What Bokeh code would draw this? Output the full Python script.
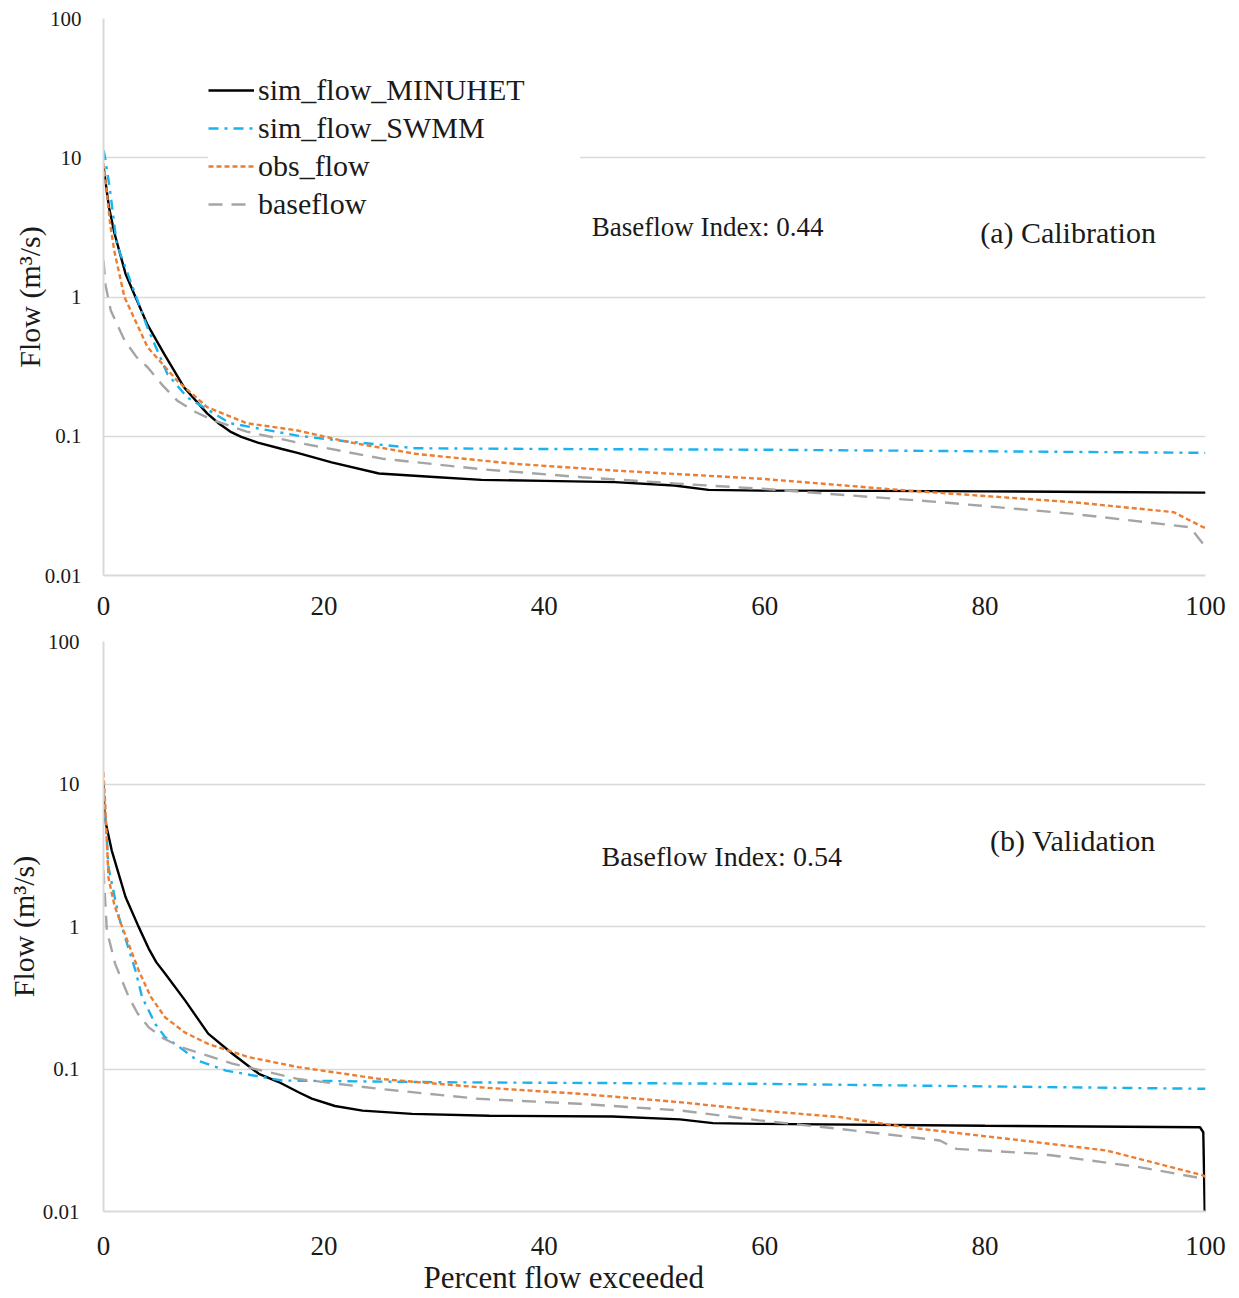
from bokeh.plotting import figure
from bokeh.layouts import column
from bokeh.models import (Range1d, FixedTicker, CustomJSTickFormatter, Legend,
                          LegendItem, Label, Title)
from bokeh.embed import file_html
from bokeh.resources import INLINE

FONT = "Liberation Serif"
TXT = "#1a1a1a"
GRID = "#d9d9d9"

# ---------------- data ----------------
x_ticks = [0, 20, 40, 60, 80, 100]
y_ticks = [0.01, 0.1, 1, 10, 100]
series_names = ["sim_flow_MINUHET", "sim_flow_SWMM", "obs_flow", "baseflow"]

# (a) Calibration
cal_minuhet_pct = [0, 0.1, 0.5, 1.0, 2.0, 2.9, 4.0, 5.5, 7.3, 9.4, 10.5, 11.5, 12.5, 14,
                   16.2, 17.6, 20.7, 25, 30, 34.3, 40, 46.4, 51.8, 54.9, 59.7, 70, 80, 90, 100]
cal_minuhet_q = [8.8, 7.5, 4.4, 2.86, 1.47, 1.0, 0.63, 0.39, 0.225, 0.146, 0.123, 0.108,
                 0.099, 0.090, 0.081, 0.076, 0.065, 0.054, 0.051, 0.0486, 0.0478, 0.0468,
                 0.0443, 0.0412, 0.0407, 0.0405, 0.0402, 0.0398, 0.0394]
cal_swmm_pct = [0, 0.1, 0.6, 1.2, 2.2, 4.0, 5.8, 7.6, 11.5, 17.6, 22, 28.3, 40, 60, 80, 100]
cal_swmm_q = [11.3, 10.5, 5.8, 2.4, 1.47, 0.60, 0.28, 0.19, 0.124, 0.101, 0.092, 0.082,
              0.081, 0.080, 0.078, 0.076]
cal_obs_pct = [0, 0.1, 0.6, 0.97, 1.9, 4.0, 6.7, 9.4, 13, 17.6, 22.3, 28.3, 37.3, 46.4,
               59.7, 73, 88, 97.1, 99.8, 100]
cal_obs_q = [9.1, 8.0, 3.37, 2.16, 1.0, 0.436, 0.25, 0.162, 0.124, 0.11, 0.0906, 0.0748,
             0.0634, 0.0567, 0.0495, 0.0407, 0.0336, 0.0285, 0.0222, 0.022]
cal_base_pct = [0, 0.2, 0.66, 1.9, 3.0, 4.0, 5.3, 6.7, 8.3, 10, 13, 17.6, 25.3, 34.3,
                43.4, 52.4, 59.7, 63.9, 76, 88, 98.6, 100]
cal_base_q = [1.83, 1.2, 0.8, 0.49, 0.37, 0.313, 0.235, 0.18, 0.15, 0.13, 0.108, 0.09,
              0.069, 0.058, 0.0508, 0.0455, 0.042, 0.0396, 0.0336, 0.0277, 0.0222, 0.016]

# (b) Validation
val_minuhet_pct = [0, 0.09, 0.75, 2.0, 3.2, 4.1, 4.8, 5.6, 7.4, 9.5, 11.7, 14.1, 15.9,
                   17.7, 18.9, 21, 23.5, 28, 35, 46.2, 52.3, 55.3, 59.5, 80, 99.5, 99.8,
                   100]
val_minuhet_q = [10.5, 5.85, 3.41, 1.61, 0.99, 0.70, 0.56, 0.466, 0.303, 0.177, 0.128,
                 0.0925, 0.081, 0.0687, 0.062, 0.055, 0.051, 0.0484, 0.047, 0.0464,
                 0.0443, 0.0417, 0.0412, 0.040, 0.039, 0.036, 0.005]
val_swmm_pct = [0, 0.1, 0.45, 1.4, 2.9, 3.5, 4.7, 5.6, 6.5, 8.5, 11.1, 16.2, 31, 59.5,
                80, 100]
val_swmm_q = [9.0, 7.6, 2.6, 1.16, 0.49, 0.32, 0.207, 0.167, 0.15, 0.115, 0.0975, 0.083,
              0.0807, 0.0787, 0.0755, 0.0726]
val_obs_pct = [0, 0.15, 0.45, 1.0, 1.7, 3.2, 4.3, 5.6, 7.4, 9.5, 13.2, 17.7, 25, 34,
               43.2, 52.3, 59.5, 66.8, 72.9, 82, 91, 99.8, 100]
val_obs_q = [12.1, 7.3, 2.2, 1.4, 0.99, 0.49, 0.32, 0.23, 0.18, 0.15, 0.121, 0.103,
             0.0853, 0.0745, 0.067, 0.0585, 0.0512, 0.046, 0.039, 0.0324, 0.0268,
             0.0179, 0.0175]
val_base_pct = [0, 0.3, 1.06, 2.3, 3.1, 4.1, 5.5, 7.1, 11.7, 17.7, 25, 34, 43.2, 52.3,
                59.5, 66.8, 75.9, 76.8, 77.4, 85, 94, 99.8, 100]
val_base_q = [2.5, 0.94, 0.547, 0.319, 0.245, 0.196, 0.163, 0.142, 0.109, 0.085, 0.0726,
              0.0618, 0.057, 0.0512, 0.0436, 0.038, 0.0315, 0.029, 0.0275, 0.0254,
              0.0205, 0.017, 0.0165]

STYLES = [
    dict(line_color="#000000", line_width=2.4, line_dash="solid"),
    dict(line_color="#1ab2ef", line_width=2.4, line_dash="10 6 3 6"),
    dict(line_color="#ed7d31", line_width=2.4, line_dash="5 3"),
    dict(line_color="#a5a5a5", line_width=2.4, line_dash="14 9"),
]


def make_fig(height, b_left, b_top, b_bottom, xl_standoff, yl_standoff, title_standoff):
    p = figure(width=1239, height=height, y_axis_type="log",
               x_range=Range1d(0, 100), y_range=Range1d(0.01, 100),
               output_backend="svg", toolbar_location=None,
               min_border_left=b_left, min_border_right=34,
               min_border_top=b_top, min_border_bottom=b_bottom)
    p.outline_line_color = None
    p.xgrid.grid_line_color = None
    p.ygrid.grid_line_color = GRID
    p.ygrid.grid_line_width = 1.5
    p.ygrid.ticker = FixedTicker(ticks=y_ticks)
    p.xaxis.ticker = FixedTicker(ticks=x_ticks)
    p.yaxis.ticker = FixedTicker(ticks=y_ticks)
    p.yaxis.formatter = CustomJSTickFormatter(code="return tick.toString();")
    for ax in (p.xaxis[0], p.yaxis[0]):
        ax.axis_line_color = GRID
        ax.axis_line_width = 2
        ax.major_tick_line_color = None
        ax.minor_tick_line_color = None
        ax.major_tick_out = 0
        ax.major_tick_in = 0
        ax.minor_tick_out = 0
        ax.major_label_text_font = FONT
        ax.major_label_text_color = TXT
    p.xaxis.major_label_text_font_size = "27px"
    p.xaxis.major_label_standoff = xl_standoff
    p.yaxis.major_label_text_font_size = "21px"
    p.yaxis.major_label_standoff = yl_standoff
    p.yaxis.axis_label = "Flow (m³/s)"
    p.yaxis.axis_label_text_font = FONT
    p.yaxis.axis_label_text_font_size = "30px"
    p.yaxis.axis_label_text_font_style = "normal"
    p.yaxis.axis_label_text_color = TXT
    p.yaxis.axis_label_standoff = title_standoff
    return p


def add_series(p, data):
    rs = []
    for (xs, ys), st in zip(data, STYLES):
        rs.append(p.line(xs, ys, **st))
    return rs


# ---------------- top: calibration ----------------
p1 = make_fig(629, 103, 18, 54, 21, 22, -4)
r1 = add_series(p1, [(cal_minuhet_pct, cal_minuhet_q), (cal_swmm_pct, cal_swmm_q),
                     (cal_obs_pct, cal_obs_q), (cal_base_pct, cal_base_q)])
legend = Legend(items=[LegendItem(label=n, renderers=[r]) for n, r in zip(series_names, r1)],
                location=(105, 352), margin=0, padding=0, spacing=0,
                glyph_width=46, glyph_height=38, label_height=38, label_standoff=4,
                label_width=322,
                label_text_font=FONT, label_text_font_size="30px", label_text_color=TXT,
                border_line_color=None, background_fill_color="white",
                background_fill_alpha=1.0)
p1.add_layout(legend)
p1.add_layout(Label(x=44.3, y=3.2, text="Baseflow Index: 0.44", text_font=FONT,
                    text_font_size="27px", text_color=TXT, text_baseline="middle",
                    text_align="left"))
p1.add_layout(Label(x=95.5, y=2.9, text="(a) Calibration", text_font=FONT,
                    text_font_size="30px", text_color=TXT, text_baseline="middle",
                    text_align="right"))

# ---------------- bottom: validation ----------------
p2 = make_fig(669, 103, 12, 87, 25, 24, 0)
add_series(p2, [(val_minuhet_pct, val_minuhet_q), (val_swmm_pct, val_swmm_q),
                (val_obs_pct, val_obs_q), (val_base_pct, val_base_q)])
p2.add_layout(Label(x=45.2, y=3.1, text="Baseflow Index: 0.54", text_font=FONT,
                    text_font_size="28px", text_color=TXT, text_baseline="middle",
                    text_align="left"))
p2.add_layout(Label(x=95.5, y=4.0, text="(b) Validation", text_font=FONT,
                    text_font_size="30px", text_color=TXT, text_baseline="middle",
                    text_align="right"))
p2.add_layout(Title(text="Percent flow exceeded", align="left", offset=320,
                    text_font=FONT, text_font_size="31px", text_font_style="normal",
                    text_color=TXT, standoff=0), "below")

layout = column(p1, p2, spacing=0)
open("out.html", "w").write(file_html(layout, INLINE))
